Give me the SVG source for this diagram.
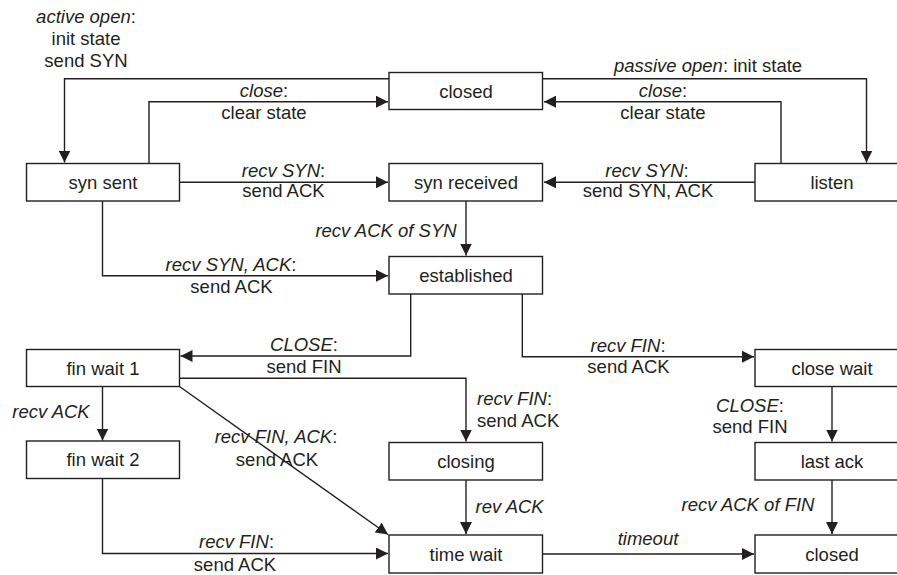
<svg xmlns="http://www.w3.org/2000/svg" width="897" height="575" viewBox="0 0 897 575">
<style>
  .box { fill: #ffffff; stroke: #231f20; stroke-width: 1.4; }
  .st { font-family: "Liberation Sans", Arial, sans-serif; font-size: 18.5px; fill: #231f20; text-anchor: middle; }
  .lb { font-family: "Liberation Sans", Arial, sans-serif; font-size: 18.5px; fill: #231f20; text-anchor: middle; }
  .l { text-anchor: start; }
  .i { font-style: italic; }
  .conn path { fill: none; stroke: #231f20; stroke-width: 1.4; marker-end: url(#arr); }
</style>
<defs>
  <marker id="arr" markerUnits="userSpaceOnUse" markerWidth="13" markerHeight="12" refX="12" refY="6" orient="auto">
    <path d="M0,0 L12,6 L0,12 z" fill="#231f20"/>
  </marker>
</defs>
<rect width="897" height="575" fill="#ffffff"/>

<g id="connectors" class="conn">
  <path d="M389,78.7 H64.5 V162.5"/>
  <path d="M149,163.5 V101.7 H388"/>
  <path d="M543,78.7 H866.5 V162.5"/>
  <path d="M781,163.5 V101.7 H544"/>
  <path d="M179.5,182.3 H388"/>
  <path d="M755,182.3 H544"/>
  <path d="M466,201 V255.5"/>
  <path d="M102.5,201 V275.7 H388"/>
  <path d="M410.7,294 V356 H180.5"/>
  <path d="M522.3,294 V356.7 H754"/>
  <path d="M179.5,378.3 H466 V441.5"/>
  <path d="M832,386.5 V441.5"/>
  <path d="M102.5,386.5 V440.5"/>
  <path d="M179.5,386.5 L388,534.5"/>
  <path d="M102.5,478.5 V553.5 H388"/>
  <path d="M466,480 V534"/>
  <path d="M832,480 V534"/>
  <path d="M543,554 H754"/>
</g>

<g id="labels">
  <text class="lb" x="86" y="22.5"><tspan class="i">active open</tspan>:</text>
  <text class="lb" x="86" y="45">init state</text>
  <text class="lb" x="86" y="67">send SYN</text>
  <text class="lb" x="264" y="96.5"><tspan class="i">close</tspan>:</text>
  <text class="lb" x="264" y="119">clear state</text>
  <text class="lb" x="708" y="71.5"><tspan class="i">passive open</tspan>: init state</text>
  <text class="lb" x="663" y="96.5"><tspan class="i">close</tspan>:</text>
  <text class="lb" x="663" y="119">clear state</text>
  <text class="lb" x="283.5" y="176.5"><tspan class="i">recv SYN</tspan>:</text>
  <text class="lb" x="283.5" y="197">send ACK</text>
  <text class="lb" x="647" y="176.5"><tspan class="i">recv SYN</tspan>:</text>
  <text class="lb" x="648" y="197">send SYN, ACK</text>
  <text class="lb i" x="386" y="236.5">recv ACK of SYN</text>
  <text class="lb" x="231" y="271"><tspan class="i">recv SYN, ACK</tspan>:</text>
  <text class="lb" x="231.5" y="293.3">send ACK</text>
  <text class="lb" x="304" y="351"><tspan class="i">CLOSE</tspan>:</text>
  <text class="lb" x="304" y="373">send FIN</text>
  <text class="lb" x="628" y="351.5"><tspan class="i">recv FIN</tspan>:</text>
  <text class="lb" x="628.5" y="373">send ACK</text>
  <text class="lb i" x="51" y="417.5">recv ACK</text>
  <text class="lb l" x="477" y="405"><tspan class="i">recv FIN</tspan>:</text>
  <text class="lb l" x="477" y="426.7">send ACK</text>
  <text class="lb" x="750" y="411.5"><tspan class="i">CLOSE</tspan>:</text>
  <text class="lb" x="750" y="433.3">send FIN</text>
  <text class="lb" x="276" y="443.3"><tspan class="i">recv FIN, ACK</tspan>:</text>
  <text class="lb" x="277" y="466">send ACK</text>
  <text class="lb l i" x="475.5" y="513.3">rev ACK</text>
  <text class="lb i" x="748" y="511">recv ACK of FIN</text>
  <text class="lb" x="236.5" y="548.3"><tspan class="i">recv FIN</tspan>:</text>
  <text class="lb" x="235" y="570.7">send ACK</text>
  <text class="lb i" x="648" y="545">timeout</text>
</g>

<g id="closed-top"><rect class="box" x="389" y="72.5" width="153.5" height="37"/><text class="st" x="466" y="97.5">closed</text></g>
<g id="syn-sent"><rect class="box" x="26.5" y="163.5" width="153" height="37.5"/><text class="st" x="103" y="188.8">syn sent</text></g>
<g id="syn-received"><rect class="box" x="389" y="163.5" width="153.5" height="37.5"/><text class="st" x="466" y="188.8">syn received</text></g>
<g id="listen"><rect class="box" x="755" y="163.5" width="154" height="37.5"/><text class="st" x="832" y="188.8">listen</text></g>
<g id="established"><rect class="box" x="389" y="256.5" width="153.5" height="37.5"/><text class="st" x="466" y="281.8">established</text></g>
<g id="fin-wait-1"><rect class="box" x="26.5" y="349.5" width="153" height="37"/><text class="st" x="103" y="374.5">fin wait 1</text></g>
<g id="close-wait"><rect class="box" x="755" y="349.5" width="154" height="37"/><text class="st" x="832" y="374.5">close wait</text></g>
<g id="fin-wait-2"><rect class="box" x="26.5" y="441" width="153" height="37.5"/><text class="st" x="103" y="466.2">fin wait 2</text></g>
<g id="closing"><rect class="box" x="389" y="442.5" width="153.5" height="37.5"/><text class="st" x="466" y="467.7">closing</text></g>
<g id="last-ack"><rect class="box" x="755" y="442.5" width="154" height="37.5"/><text class="st" x="832" y="467.7">last ack</text></g>
<g id="time-wait"><rect class="box" x="389" y="535" width="153.5" height="38"/><text class="st" x="466" y="560.5">time wait</text></g>
<g id="closed-bottom"><rect class="box" x="755" y="535" width="154" height="38"/><text class="st" x="832" y="560.5">closed</text></g>
</svg>
